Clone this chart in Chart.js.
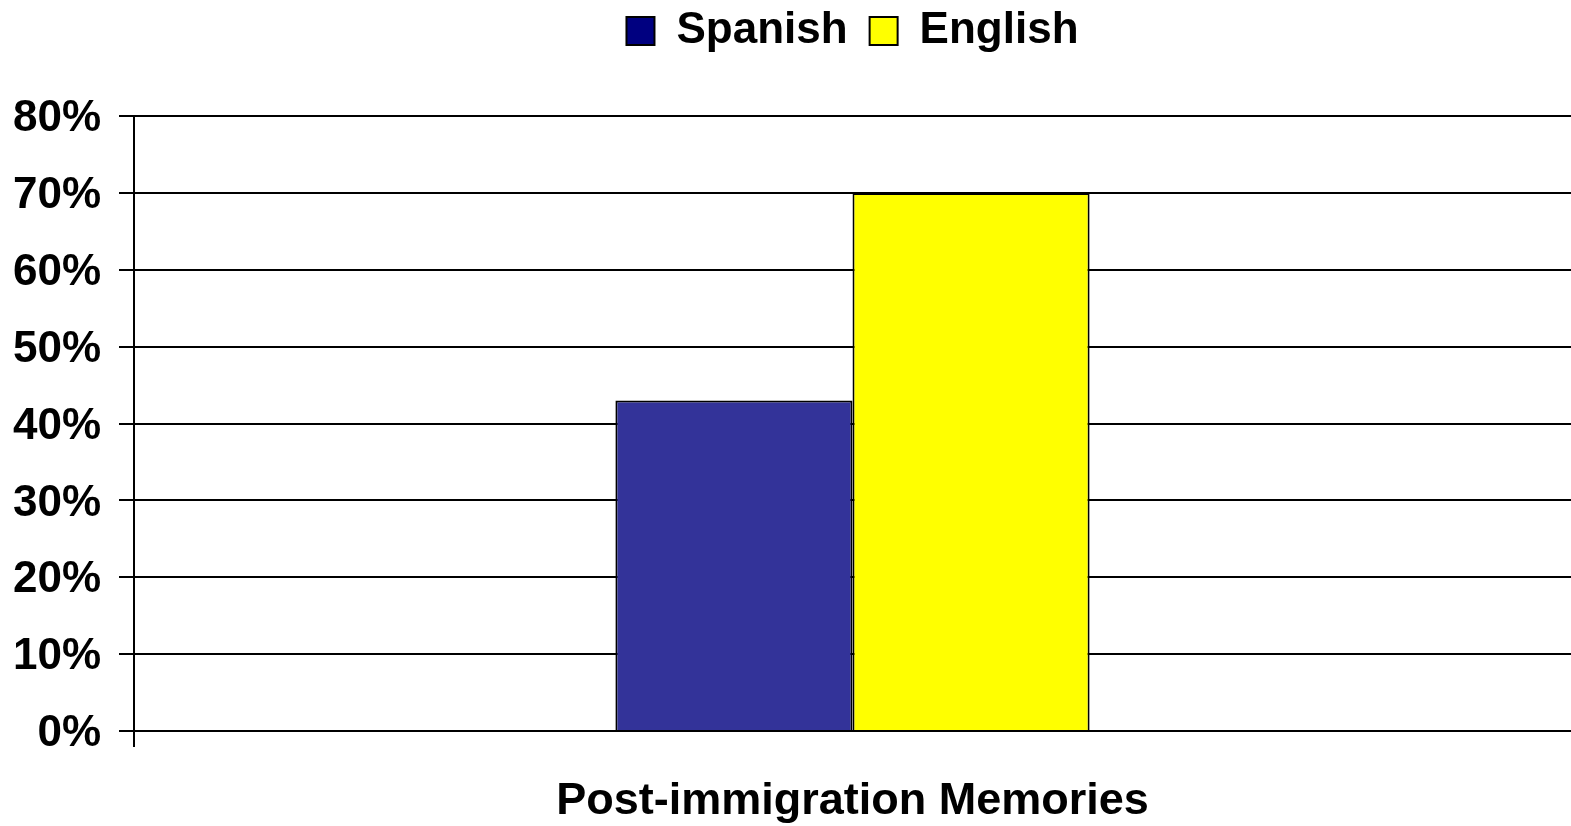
<!DOCTYPE html>
<html lang="en">
<head>
  <meta charset="UTF-8">
  <title>Post-immigration Memories</title>
  <script src="https://cdn.jsdelivr.net/npm/chart.js"></script>
  <style>
    body {
      margin: 0;
      padding: 0;
      background: white;
    }
    .wrap {
      width: 1571px;
      height: 826px;
    }
  </style>
</head>
<body>
  <div class="wrap">
    <canvas id="chartMemoires"></canvas>
  </div>
  <script>
    const categories = [''];
    const spanish = [43];
    const english = [70];
    const yTicks = [0, 10, 20, 30, 40, 50, 60, 70, 80];

    const font = { family: "'Liberation Sans', Arial, sans-serif", size: 44, weight: 'bold' };
    const bigFont = { family: "'Liberation Sans', Arial, sans-serif", size: 45, weight: 'bold', lineHeight: 1 };

    // legende : plus d'espace dessous, et centree sur la zone du graphique
    const legendTweak = {
      id: 'legendTweak',
      afterInit(chart) {
        const lg = chart.legend;
        const fit = lg.fit;
        lg.fit = function () {
          fit.call(this);
          this.height += 40;
        };
      },
      afterLayout(chart) {
        const lg = chart.legend;
        const area = chart.chartArea;
        const dx = (area.left + area.right) / 2 - chart.width / 2;
        lg.left += dx;
        lg.right += dx;
        lg.top -= 13;
        lg.bottom -= 13;
      }
    };

    const ctx = document.getElementById('chartMemoires').getContext('2d');
    new Chart(ctx, {
      type: 'bar',
      data: {
        labels: categories,
        datasets: [
          {
            label: 'Spanish',
            data: spanish,
            backgroundColor: '#333399',
            legendColor: '#000080',
            borderColor: '#000',
            borderWidth: 2
          },
          {
            label: 'English',
            data: english,
            backgroundColor: '#ffff00',
            legendColor: '#ffff00',
            borderColor: '#000',
            borderWidth: 2
          }
        ]
      },
      plugins: [legendTweak],
      options: {
        responsive: true,
        maintainAspectRatio: false,
        animation: false,
        layout: { padding: { top: 0, right: 0, bottom: 0, left: 0 } },
        datasets: {
          bar: { categoryPercentage: 0.33, barPercentage: 1 }
        },
        plugins: {
          tooltip: { enabled: false },
          legend: {
            position: 'top',
            labels: {
              color: '#000',
              font: font,
              boxWidth: 28,
              boxHeight: 28,
              padding: 22,
              generateLabels: chart => chart.data.datasets.map((ds, i) => ({
                text: ds.label,
                fillStyle: ds.legendColor,
                strokeStyle: '#000',
                lineWidth: 2,
                fontColor: '#000',
                datasetIndex: i
              }))
            }
          }
        },
        scales: {
          x: {
            grid: {
              display: true,
              drawOnChartArea: false,
              color: c => c.index === 0 ? '#000' : 'rgba(0,0,0,0)',
              lineWidth: 2,
              tickLength: 16
            },
            border: { display: false },
            ticks: { display: false },
            title: {
              display: true,
              text: 'Post-immigration Memories',
              color: '#000',
              font: bigFont,
              padding: { top: 32, bottom: 2 }
            }
          },
          y: {
            min: 0,
            max: 80,
            afterBuildTicks: scale => {
              scale.ticks = yTicks.map(v => ({ value: v }));
            },
            afterFit: scale => { scale.width = 134; },
            grid: {
              color: '#000',
              lineWidth: 2,
              tickLength: 15
            },
            border: { display: true, color: '#000', width: 2 },
            ticks: {
              color: '#000',
              font: font,
              padding: 18,
              labelOffset: 3,
              callback: v => v + '%'
            }
          }
        }
      }
    });
  </script>
</body>
</html>
